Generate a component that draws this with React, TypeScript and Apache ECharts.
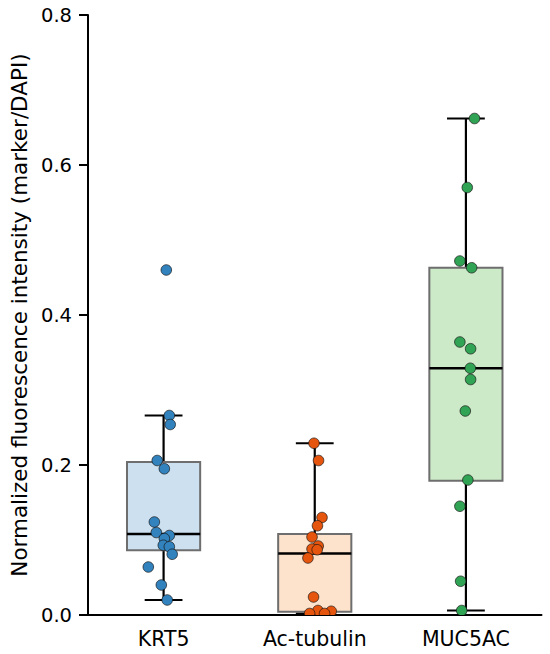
import React, { useEffect, useRef } from "react";
import * as echarts from "echarts";

const categories = ["KRT5", "Ac-tubulin", "MUC5AC"];

// Box statistics (per category)
const whiskerLow = [0.02, 0.002, 0.006];
const quartile1 = [0.0864, 0.0045, 0.179];
const medians = [0.108, 0.082, 0.329];
const quartile3 = [0.204, 0.108, 0.463];
const whiskerHigh = [0.266, 0.229, 0.662];

// Individual points (values and horizontal jitter, in category units)
const krt5Values = [0.46, 0.266, 0.254, 0.206, 0.195, 0.124, 0.11, 0.106, 0.102, 0.093, 0.091, 0.081, 0.064, 0.04, 0.02];
const krt5Jitter = [0.018, 0.038, 0.044, -0.042, 0.005, -0.061, -0.048, 0.038, 0.005, -0.002, 0.038, 0.057, -0.101, -0.015, 0.024];

const acTubulinValues = [0.229, 0.206, 0.13, 0.119, 0.104, 0.092, 0.088, 0.087, 0.076, 0.024, 0.006, 0.005, 0.002, 0.002];
const acTubulinJitter = [-0.005, 0.025, 0.048, 0.018, -0.018, 0.023, -0.018, 0.016, -0.045, -0.008, 0.021, 0.109, -0.034, 0.065];

const muc5acValues = [0.662, 0.57, 0.472, 0.463, 0.364, 0.355, 0.329, 0.314, 0.272, 0.18, 0.145, 0.045, 0.006];
const muc5acJitter = [0.057, 0.009, -0.04, 0.038, -0.04, 0.031, 0.029, 0.031, -0.004, 0.013, -0.04, -0.035, -0.028];

const yTicks = [0, 0.2, 0.4, 0.6, 0.8];

const pointColors = ["#3182bd", "#e6550d", "#31a354"];
const boxFills = ["#cce0f0", "#fde3cb", "#cdeac8"];

const BOX_HALF = 0.242;
const CAP_HALF = 0.125;
const FONT = "DejaVu Sans";

export default function App() {
  const ref = useRef<HTMLDivElement>(null);

  useEffect(() => {
    if (!ref.current) return;
    const chart = echarts.init(ref.current, null, { renderer: "svg" });

    const boxData = categories.map((_, i) => [
      i,
      whiskerLow[i],
      quartile1[i],
      medians[i],
      quartile3[i],
      whiskerHigh[i],
    ]);

    const groups = [
      [krt5Values, krt5Jitter],
      [acTubulinValues, acTubulinJitter],
      [muc5acValues, muc5acJitter],
    ];
    const pointData: number[][] = [];
    groups.forEach(([vals, jit], g) => {
      vals.forEach((v, k) => pointData.push([g + jit[k], v, g]));
    });

    const option: any = {
      animation: false,
      grid: { left: 86.7, right: 8.5, top: 15, bottom: 39 },
      xAxis: [
        {
          type: "category",
          data: categories,
          boundaryGap: true,
          axisLine: { show: true, onZero: false, lineStyle: { color: "#000", width: 2 } },
          axisTick: { show: false },
          axisLabel: { fontFamily: FONT, fontSize: 20.5, color: "#000", margin: 13 },
          splitLine: { show: false },
        },
        {
          type: "value",
          min: -0.5,
          max: 2.5,
          show: false,
          axisLine: { show: false, onZero: false },
          splitLine: { show: false },
        },
      ],
      yAxis: {
        type: "value",
        min: yTicks[0],
        max: yTicks[yTicks.length - 1],
        interval: 0.2,
        axisLine: { show: true, onZero: false, lineStyle: { color: "#000", width: 2 } },
        axisTick: { show: true, length: 9, lineStyle: { color: "#000", width: 2 } },
        axisLabel: {
          fontFamily: FONT,
          fontSize: 19.5,
          color: "#000",
          margin: 16,
          formatter: (v: number) => v.toFixed(1),
        },
        splitLine: { show: false },
        name: "Normalized fluorescence intensity (marker/DAPI)",
        nameLocation: "middle",
        nameGap: 58,
        nameTextStyle: { fontFamily: FONT, fontSize: 21.5, color: "#000" },
      },
      series: [
        {
          type: "custom",
          xAxisIndex: 1,
          yAxisIndex: 0,
          z: 2,
          encode: { x: 0, y: [1, 2, 3, 4, 5] },
          data: boxData,
          renderItem: (params: any, api: any) => {
            const x = api.value(0);
            const lo = api.value(1);
            const q1 = api.value(2);
            const med = api.value(3);
            const q3 = api.value(4);
            const hi = api.value(5);
            const i = params.dataIndex;
            const tl = api.coord([x - BOX_HALF, q3]);
            const br = api.coord([x + BOX_HALF, q1]);
            const cLo = api.coord([x, lo]);
            const cHi = api.coord([x, hi]);
            const cQ1 = api.coord([x, q1]);
            const cQ3 = api.coord([x, q3]);
            const capL = api.coord([x - CAP_HALF, lo])[0];
            const capR = api.coord([x + CAP_HALF, lo])[0];
            const mY = api.coord([x, med])[1];
            const black = { stroke: "#000", lineWidth: 2.2 };
            return {
              type: "group",
              children: [
                { type: "line", shape: { x1: cHi[0], y1: cHi[1], x2: cQ3[0], y2: cQ3[1] }, style: black },
                { type: "line", shape: { x1: cLo[0], y1: cLo[1], x2: cQ1[0], y2: cQ1[1] }, style: black },
                { type: "line", shape: { x1: capL, y1: cHi[1], x2: capR, y2: cHi[1] }, style: black },
                { type: "line", shape: { x1: capL, y1: cLo[1], x2: capR, y2: cLo[1] }, style: black },
                {
                  type: "rect",
                  shape: { x: tl[0], y: tl[1], width: br[0] - tl[0], height: br[1] - tl[1] },
                  style: { fill: boxFills[i], stroke: "#6e6e6e", lineWidth: 2 },
                },
                { type: "line", shape: { x1: tl[0], y1: mY, x2: br[0], y2: mY }, style: { stroke: "#000", lineWidth: 2.6 } },
              ],
            };
          },
        },
        {
          type: "custom",
          xAxisIndex: 1,
          yAxisIndex: 0,
          z: 3,
          clip: true,
          encode: { x: 0, y: 1 },
          data: pointData,
          renderItem: (_params: any, api: any) => {
            const p = api.coord([api.value(0), api.value(1)]);
            const g = api.value(2);
            return {
              type: "circle",
              shape: { cx: p[0], cy: p[1], r: 5.3 },
              style: { fill: pointColors[g], stroke: "rgba(20,20,20,0.75)", lineWidth: 0.9 },
            };
          },
        },
      ],
    };

    chart.setOption(option);
    return () => chart.dispose();
  }, []);

  return (
    <div
      ref={ref}
      style={{ position: "fixed", left: 0, top: 0, width: 550, height: 654, background: "#fff" }}
    />
  );
}
